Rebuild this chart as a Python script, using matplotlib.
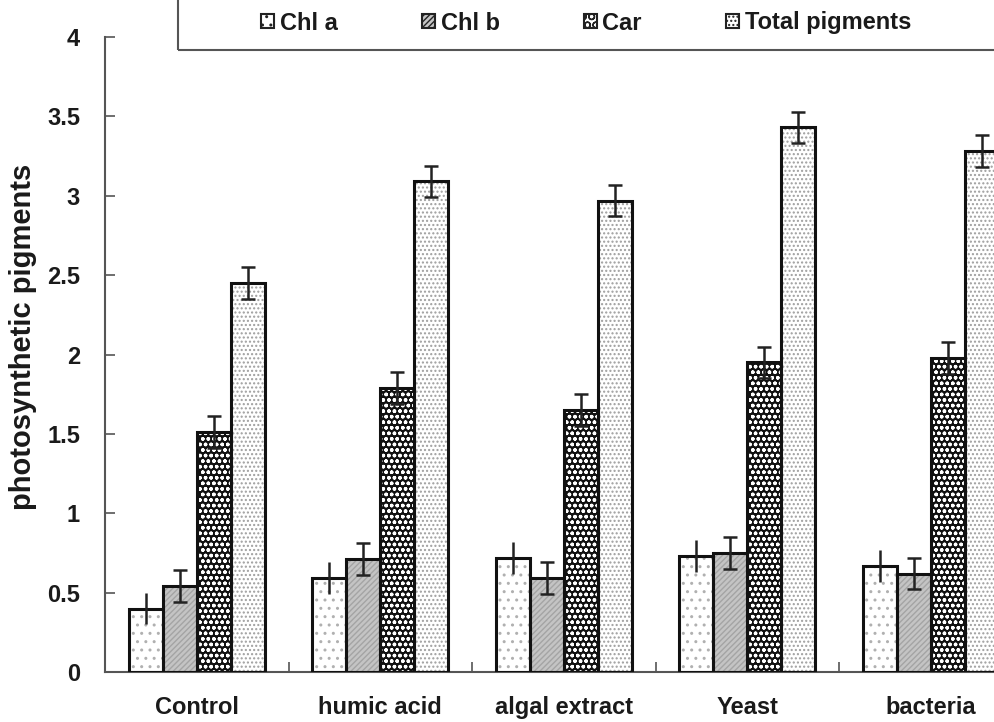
#!/usr/bin/env python3

import matplotlib
matplotlib.use("Agg")
import matplotlib.pyplot as plt
import numpy as np
from matplotlib.patches import Rectangle

# Data
treatments = ["Control", "humic acid", "algal extract", "Yeast", "bacteria"]
series = ["Chl a", "Chl b", "Car", "Total pigments"]
chl_a = [0.40, 0.59, 0.72, 0.73, 0.67]
chl_b = [0.54, 0.71, 0.59, 0.75, 0.62]
car = [1.51, 1.79, 1.65, 1.95, 1.98]
total = [2.45, 3.09, 2.97, 3.43, 3.28]
err_chl_a = [0.10, 0.10, 0.10, 0.10, 0.10]
err_chl_b = [0.10, 0.10, 0.10, 0.10, 0.10]
err_car = [0.10, 0.10, 0.10, 0.10, 0.10]
err_total = [0.10, 0.10, 0.10, 0.10, 0.10]
y_ticks = [0, 0.5, 1, 1.5, 2, 2.5, 3, 3.5, 4]
y_tick_labels = ["0", "0.5", "1", "1.5", "2", "2.5", "3", "3.5", "4"]

plt.rcParams["font.family"] = ["Liberation Sans", "DejaVu Sans"]
plt.rcParams["font.weight"] = "bold"
plt.rcParams["hatch.linewidth"] = 1.0

fig = plt.figure(figsize=(9.95, 7.22), dpi=100)
ax = fig.add_axes([105 / 995, 1 - 672 / 722, 1 - 105 / 995, (672 - 37) / 722])

x = np.arange(len(treatments))
w = 0.185
values = [chl_a, chl_b, car, total]
errors = [err_chl_a, err_chl_b, err_car, err_total]
# (face colour, hatch, hatch colour)
styles = [
    ("white", "..", "#b0b0b0"),
    ("#c4c4c4", "//////", "#a4a4a4"),
    ("white", "OO", "#111111"),
    ("white", "....", "#9e9e9e"),
]
caps = [0, 5, 5, 5]

for i, (vals, errs, (fc, hatch, hc)) in enumerate(zip(values, errors, styles)):
    pos = x + (i - 1.5) * w
    if i == 2:
        # dark checker look: black fill with white circles
        ax.bar(pos, vals, w, color="#111111", edgecolor="white", hatch="ooo",
               linewidth=0, zorder=2)
    else:
        ax.bar(pos, vals, w, color=fc, edgecolor=hc, hatch=hatch,
               linewidth=0, zorder=2)
    ax.bar(pos, vals, w, fill=False, edgecolor="#111111", linewidth=2.2,
           zorder=3)
    ax.errorbar(pos, vals, yerr=errs, fmt="none", ecolor="#222222",
                elinewidth=1.8, capsize=caps[i], capthick=1.8, zorder=4)

# Axes styling
ax.set_xlim(-0.5, 4.35)
ax.set_ylim(0, 4)
ax.set_yticks(y_ticks)
ax.set_yticklabels(y_tick_labels)
ax.set_xticks(x)
ax.set_xticklabels(treatments)
ax.set_xticks(np.arange(0.5, 4.5, 1), minor=True)
ax.tick_params(axis="x", which="major", length=0, pad=17, labelsize=17,
               labelcolor="#1a1a1a")
ax.tick_params(axis="x", which="minor", direction="in", length=7,
               color="#555555", width=1.2)
ax.tick_params(axis="y", direction="in", length=7, color="#555555",
               width=1.2, pad=18, labelsize=17, labelcolor="#1a1a1a")
for lab in ax.get_xticklabels() + ax.get_yticklabels():
    lab.set_fontweight("bold")
ax.spines["top"].set_visible(False)
ax.spines["right"].set_visible(False)
ax.spines["left"].set_color("#555555")
ax.spines["bottom"].set_color("#555555")
ax.spines["left"].set_linewidth(1.5)
ax.spines["bottom"].set_linewidth(1.5)

fig.text(23 / 995, 1 - 337 / 722, "photosynthetic pigments", rotation=90,
         ha="center", va="center", fontsize=21, fontweight="bold",
         color="#1a1a1a")

# Legend box (top and right edge run off the picture)
fig.patches.append(Rectangle((178 / 995, 1 - 50 / 722), 0.9, 0.2,
                             transform=fig.transFigure, fill=False,
                             edgecolor="#555555", linewidth=1.5))
handles = []
for fc, hatch, hc in styles:
    handles.append(Rectangle((0, 0), 1, 1, facecolor=fc, hatch=hatch,
                             edgecolor="#222222", linewidth=1.5))
leg = fig.legend(handles, series, loc="center left", ncol=4,
                 bbox_to_anchor=(240 / 995, 1 - 23 / 722), frameon=False,
                 fontsize=17, handlelength=0.55, handleheight=0.55,
                 handletextpad=0.25, columnspacing=3.55)
for t in leg.get_texts():
    t.set_fontweight("bold")
    t.set_color("#1a1a1a")

fig.savefig("out.png", dpi=100)
